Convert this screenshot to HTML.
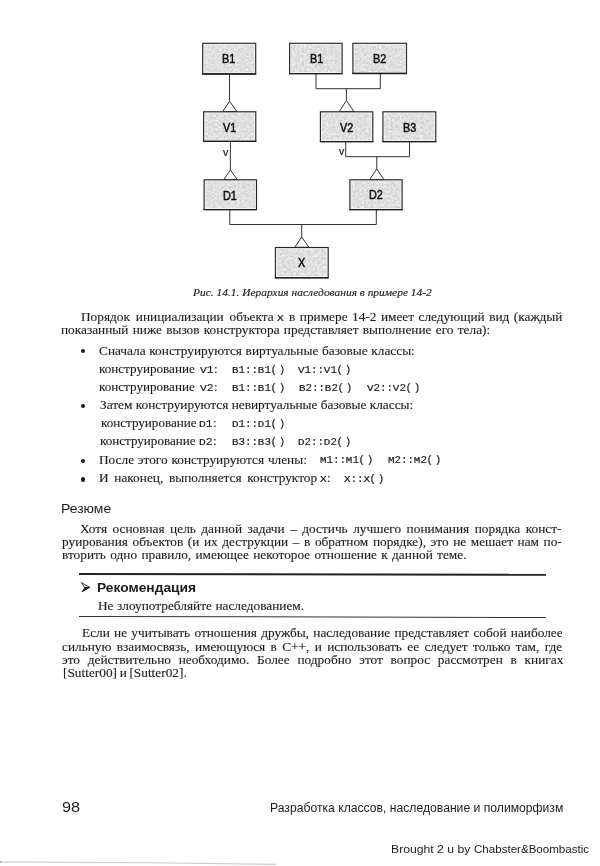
<!DOCTYPE html>
<html lang="ru"><head><meta charset="utf-8"><title>page 98</title>
<style>
html,body{margin:0;padding:0;background:#fff;}
body{width:600px;height:866px;position:relative;overflow:hidden;color:#1c1c1c;}
.f{position:absolute;white-space:nowrap;line-height:20px;transform-origin:0 0;}
.s{font-family:'Liberation Serif',serif;-webkit-text-stroke:0.12px #1c1c1c;}
.si{font-family:'Liberation Serif',serif;font-style:italic;-webkit-text-stroke:0.15px #1c1c1c;}
.a{font-family:'Liberation Sans',sans-serif;}
.ab{font-family:'Liberation Sans',sans-serif;font-weight:bold;}
.m{font-family:'Liberation Mono',monospace;color:#1e1e1e;}
.m{-webkit-text-stroke:0.2px #1e1e1e;}
.m i{font-style:normal;font-size:0.82em;display:inline-block;width:0.7317em;text-align:center;transform:scaleX(1.22);}
.m b{font-weight:normal;position:relative;left:-0.6px;}
.m b.r{left:1.3px;}
.bl{position:absolute;width:4.2px;height:4.2px;border-radius:50%;background:#1a1a1a;}
svg{position:absolute;left:0;top:0;}
figure,p,ul,li,h3,aside,footer{margin:0;padding:0;list-style:none;font-size:inherit;font-weight:normal;display:block;position:static;}
</style></head>
<body>
<svg width="600" height="320" viewBox="0 0 600 320">
<defs>
<filter id="nz" x="0" y="0" width="100%" height="100%">
<feTurbulence type="fractalNoise" baseFrequency="0.45" numOctaves="2" seed="11" result="t"/>
<feColorMatrix in="t" type="matrix" values="0 0 0 0 0  0 0 0 0 0  0 0 0 0 0  1.7 0 0 0 -0.38" result="a"/>
<feComposite in="SourceGraphic" in2="a" operator="out" result="c"/>
<feGaussianBlur in="c" stdDeviation="0.35"/>
</filter>
</defs>
<g fill="none" stroke="#333" stroke-width="1">
<path d="M229.5 74V101.3L222.8 111.6H236.9L229.5 101.3"/>
<path d="M316 74V88.7H380.3V74M346.4 88.7V100.5L339.3 111.6H353.9L346.4 100.5"/>
<path d="M230.4 141.5V170L223.8 179.6H237.3L230.4 170"/>
<path d="M345.7 142V156.7H409.5V142M376.8 156.7V168.8L369.7 179.6H383.8L376.8 168.8"/>
<path d="M229.8 210V224.5H376.3V210M301.7 224.5V237L294.8 247.3H308.9L301.7 237"/>
</g>
<g fill="#f3f3f3" stroke="#262626" stroke-width="1.15">
<rect x="202.7" y="43.3" width="53.0" height="30.6"/>
<rect x="289.6" y="43.3" width="52.5" height="30.3"/>
<rect x="352.9" y="43.3" width="53.6" height="30.1"/>
<rect x="203.6" y="111.8" width="52.2" height="29.5"/>
<rect x="320.4" y="111.8" width="52.4" height="29.8"/>
<rect x="382.9" y="111.8" width="52.9" height="29.8"/>
<rect x="204.1" y="179.8" width="52.4" height="29.8"/>
<rect x="349.9" y="179.8" width="52.2" height="29.8"/>
<rect x="275.4" y="247.5" width="52.8" height="30.3"/>
</g>
<g fill="none" stroke="#1c1c1c" stroke-width="1.3">
<path d="M202.2 74.0h54.0M289.1 73.7h53.5M352.4 73.5h54.6M203.1 141.4h53.2M319.9 141.7h53.4M382.4 141.7h53.9M203.6 209.7h53.4M349.4 209.7h53.2M274.9 277.9h53.8"/>
</g>
<g fill="#cfcfcf" filter="url(#nz)">
<rect x="204.3" y="44.9" width="49.8" height="27.4"/>
<rect x="291.2" y="44.9" width="49.3" height="27.1"/>
<rect x="354.5" y="44.9" width="50.4" height="26.9"/>
<rect x="205.2" y="113.4" width="49.0" height="26.3"/>
<rect x="322.0" y="113.4" width="49.2" height="26.6"/>
<rect x="384.5" y="113.4" width="49.7" height="26.6"/>
<rect x="205.7" y="181.4" width="49.2" height="26.6"/>
<rect x="351.5" y="181.4" width="49.0" height="26.6"/>
<rect x="277.0" y="249.1" width="49.6" height="27.1"/>
</g>
</svg>
<figure>
<span class="f a" style="left:221.87px;top:48.80px;font-size:11.90px;transform:scaleX(0.9100);color:#111;-webkit-text-stroke:0.5px #111;">B1</span>
<span class="f a" style="left:309.57px;top:48.80px;font-size:11.90px;transform:scaleX(0.9100);color:#111;-webkit-text-stroke:0.5px #111;">B1</span>
<span class="f a" style="left:372.77px;top:48.80px;font-size:11.90px;transform:scaleX(0.9100);color:#111;-webkit-text-stroke:0.5px #111;">B2</span>
<span class="f a" style="left:222.97px;top:117.80px;font-size:11.90px;transform:scaleX(0.9100);color:#111;-webkit-text-stroke:0.5px #111;">V1</span>
<span class="f a" style="left:340.27px;top:117.60px;font-size:11.90px;transform:scaleX(0.9100);color:#111;-webkit-text-stroke:0.5px #111;">V2</span>
<span class="f a" style="left:402.97px;top:117.80px;font-size:11.90px;transform:scaleX(0.9100);color:#111;-webkit-text-stroke:0.5px #111;">B3</span>
<span class="f a" style="left:222.68px;top:186.00px;font-size:11.90px;transform:scaleX(0.9100);color:#111;-webkit-text-stroke:0.5px #111;">D1</span>
<span class="f a" style="left:369.28px;top:185.30px;font-size:11.90px;transform:scaleX(0.9100);color:#111;-webkit-text-stroke:0.5px #111;">D2</span>
<span class="f a" style="left:298.08px;top:252.90px;font-size:11.90px;transform:scaleX(0.9100);color:#111;-webkit-text-stroke:0.5px #111;">X</span>
<span class="f a" style="left:223.25px;top:141.50px;font-size:10.60px;transform:scaleX(1.0010);color:#111;-webkit-text-stroke:0.15px #111;">v</span>
<span class="f a" style="left:338.55px;top:140.50px;font-size:10.60px;transform:scaleX(1.0010);color:#111;-webkit-text-stroke:0.15px #111;">v</span>
<span class="f si" style="left:193.15px;top:282.00px;font-size:11.40px;transform:scaleX(1.0049);">Рис. 14.1. Иерархия наследования в примере 14-2</span>
</figure>
<p>
<span class="f s" style="left:80.65px;top:306.75px;font-size:12.80px;transform:scaleX(1.0400);word-spacing:2.439px;">Порядок инициализации объекта</span>
<span class="f m" style="left:277.00px;top:307.75px;font-size:11.30px;transform:scaleX(1.0010);"><i>X</i></span>
<span class="f s" style="left:288.90px;top:306.70px;font-size:12.80px;transform:scaleX(1.0400);word-spacing:1.101px;">в примере 14-2 имеет следующий вид (каждый</span>
<span class="f s" style="left:61.40px;top:320.10px;font-size:12.80px;transform:scaleX(1.0400);word-spacing:0.935px;">показанный ниже вызов конструктора представляет выполнение его тела):</span>
</p>
<ul>
<li>
<span class="f s" style="left:98.90px;top:341.00px;font-size:12.80px;transform:scaleX(1.0400);word-spacing:0.336px;">Сначала конструируются виртуальные базовые классы:</span>
</li>
<li>
<span class="f s" style="left:98.90px;top:358.50px;font-size:12.80px;transform:scaleX(1.0252);">конструирование</span>
<span class="f m" style="left:200.40px;top:359.50px;font-size:11.30px;transform:scaleX(1.0010);"><i>V</i>1</span>
<span class="f s" style="left:213.60px;top:358.50px;font-size:12.80px;transform:scaleX(1.0400);">:</span>
<span class="f m" style="left:231.80px;top:359.50px;font-size:10.50px;transform:scaleX(1.0317);"><i>B</i>1::<i>B</i>1<b>(</b><b class="r">)</b></span>
<span class="f m" style="left:298.40px;top:359.50px;font-size:10.50px;transform:scaleX(1.0317);"><i>V</i>1::<i>V</i>1<b>(</b><b class="r">)</b></span>
</li>
<li>
<span class="f s" style="left:98.90px;top:376.50px;font-size:12.80px;transform:scaleX(1.0252);">конструирование</span>
<span class="f m" style="left:200.40px;top:377.50px;font-size:11.30px;transform:scaleX(1.0010);"><i>V</i>2</span>
<span class="f s" style="left:213.60px;top:376.50px;font-size:12.80px;transform:scaleX(1.0400);">:</span>
<span class="f m" style="left:231.80px;top:377.50px;font-size:10.50px;transform:scaleX(1.0317);"><i>B</i>1::<i>B</i>1<b>(</b><b class="r">)</b></span>
<span class="f m" style="left:298.70px;top:377.50px;font-size:10.50px;transform:scaleX(1.0317);"><i>B</i>2::<i>B</i>2<b>(</b><b class="r">)</b></span>
<span class="f m" style="left:366.50px;top:377.50px;font-size:10.50px;transform:scaleX(1.0317);"><i>V</i>2::<i>V</i>2<b>(</b><b class="r">)</b></span>
</li>
<li>
<span class="f s" style="left:100.15px;top:394.60px;font-size:12.80px;transform:scaleX(1.0400);word-spacing:0.020px;">Затем конструируются невиртуальные базовые классы:</span>
</li>
<li>
<span class="f s" style="left:100.65px;top:413.00px;font-size:12.80px;transform:scaleX(1.0225);">конструирование</span>
<span class="f m" style="left:199.30px;top:414.00px;font-size:11.30px;transform:scaleX(1.0010);"><i>D</i>1</span>
<span class="f s" style="left:213.20px;top:413.00px;font-size:12.80px;transform:scaleX(1.0400);">:</span>
<span class="f m" style="left:231.60px;top:414.00px;font-size:10.50px;transform:scaleX(1.0317);"><i>D</i>1::<i>D</i>1<b>(</b><b class="r">)</b></span>
</li>
<li>
<span class="f s" style="left:99.90px;top:431.20px;font-size:12.80px;transform:scaleX(1.0230);">конструирование</span>
<span class="f m" style="left:199.30px;top:432.30px;font-size:11.30px;transform:scaleX(1.0010);"><i>D</i>2</span>
<span class="f s" style="left:213.20px;top:431.30px;font-size:12.80px;transform:scaleX(1.0400);">:</span>
<span class="f m" style="left:231.60px;top:432.30px;font-size:10.50px;transform:scaleX(1.0317);"><i>B</i>3::<i>B</i>3<b>(</b><b class="r">)</b></span>
<span class="f m" style="left:298.20px;top:432.30px;font-size:10.50px;transform:scaleX(1.0317);"><i>D</i>2::<i>D</i>2<b>(</b><b class="r">)</b></span>
</li>
<li>
<span class="f s" style="left:99.40px;top:449.50px;font-size:12.80px;transform:scaleX(1.0400);word-spacing:0.461px;">После этого конструируются члены:</span>
<span class="f m" style="left:319.70px;top:450.20px;font-size:10.50px;transform:scaleX(1.0317);"><i>M</i>1::<i>M</i>1<b>(</b><b class="r">)</b></span>
<span class="f m" style="left:387.70px;top:450.20px;font-size:10.50px;transform:scaleX(1.0317);"><i>M</i>2::<i>M</i>2<b>(</b><b class="r">)</b></span>
</li>
<li>
<span class="f s" style="left:99.40px;top:468.20px;font-size:12.80px;transform:scaleX(1.0400);word-spacing:2.270px;">И наконец, выполняется конструктор</span>
<span class="f m" style="left:319.90px;top:469.20px;font-size:11.30px;transform:scaleX(1.0010);"><i>X</i></span>
<span class="f s" style="left:326.70px;top:468.20px;font-size:12.80px;transform:scaleX(1.0400);">:</span>
<span class="f m" style="left:344.30px;top:469.40px;font-size:10.50px;transform:scaleX(1.0317);"><i>X</i>::<i>X</i><b>(</b><b class="r">)</b></span>
</li>
</ul>
<h3>
<span class="f a" style="left:61.30px;top:498.70px;font-size:12.60px;transform:scaleX(1.1086);">Резюме</span>
</h3>
<p>
<span class="f s" style="left:80.40px;top:518.70px;font-size:12.80px;transform:scaleX(1.0400);word-spacing:2.086px;">Хотя основная цель данной задачи – достичь лучшего понимания порядка конст-</span>
<span class="f s" style="left:62.10px;top:532.40px;font-size:12.80px;transform:scaleX(1.0400);word-spacing:1.205px;">руирования объектов (и их деструкции – в обратном порядке), это не мешает нам по-</span>
<span class="f s" style="left:61.90px;top:545.20px;font-size:12.80px;transform:scaleX(1.0400);word-spacing:0.972px;">вторить одно правило, имеющее некоторое отношение к данной теме.</span>
</p>
<aside>
<span class="f ab" style="left:97.20px;top:578.00px;font-size:12.20px;transform:scaleX(1.1314);">Рекомендация</span>
<span class="f s" style="left:98.40px;top:595.60px;font-size:12.80px;transform:scaleX(1.0400);word-spacing:0.178px;">Не злоупотребляйте наследованием.</span>
</aside>
<p>
<span class="f s" style="left:81.90px;top:623.00px;font-size:12.80px;transform:scaleX(1.0400);word-spacing:0.899px;">Если не учитывать отношения дружбы, наследование представляет собой наиболее</span>
<span class="f s" style="left:62.40px;top:636.80px;font-size:12.80px;transform:scaleX(1.0400);word-spacing:1.941px;">сильную взаимосвязь, имеющуюся в C++, и использовать ее следует только там, где</span>
<span class="f s" style="left:62.40px;top:649.50px;font-size:12.80px;transform:scaleX(1.0400);word-spacing:4.258px;">это действительно необходимо. Более подробно этот вопрос рассмотрен в книгах</span>
<span class="f s" style="left:63.15px;top:663.00px;font-size:12.80px;transform:scaleX(1.0400);word-spacing:-0.634px;">[Sutter00] и [Sutter02].</span>
</p>
<footer>
<span class="f a" style="left:62.40px;top:796.75px;font-size:14.70px;transform:scaleX(1.1064);">98</span>
<span class="f a" style="left:270.10px;top:798.00px;font-size:12.00px;transform:scaleX(1.0134);">Разработка классов, наследование и полиморфизм</span>
<span class="f a" style="left:391.40px;top:839.00px;font-size:11.00px;transform:scaleX(1.1084);color:#1a1a1a;">Brought 2 u by</span>
<span class="f a" style="left:474.00px;top:839.00px;font-size:11.00px;transform:scaleX(1.0515);color:#1a1a1a;">Chabster&amp;Boombastic</span>
</footer>
<div class="bl" style="left:80.50px;top:348.90px"></div>
<div class="bl" style="left:81.30px;top:404.30px"></div>
<div class="bl" style="left:81.30px;top:459.10px"></div>
<div class="bl" style="left:80.50px;top:477.40px"></div>
<div style="position:absolute;left:79.3px;top:573.4px;width:467px;height:1.8px;background:#222;transform:rotate(0.1deg);transform-origin:0 0"></div>
<div style="position:absolute;left:79.3px;top:616.4px;width:467px;height:1.4px;background:#333;transform:rotate(0.12deg);transform-origin:0 0"></div>
<svg width="600" height="866" viewBox="0 0 600 866" style="pointer-events:none">
<path d="M81.4 582.5L89.8 587.4L84.8 587.7Z" fill="#fff" stroke="#222" stroke-width="0.9" stroke-linejoin="miter"/>
<path d="M89.8 587.4L82 591.9L84.8 587.5Z" fill="#1a1a1a" stroke="#1a1a1a" stroke-width="0.7" stroke-linejoin="miter"/>
<path d="M0 861.9L150 862.7L276 864.4" fill="none" stroke="#cdcdcd" stroke-width="1.1"/>
<path d="M0 861.4v1.2" stroke="#777" stroke-width="2.4"/>
</svg>

</body></html>
